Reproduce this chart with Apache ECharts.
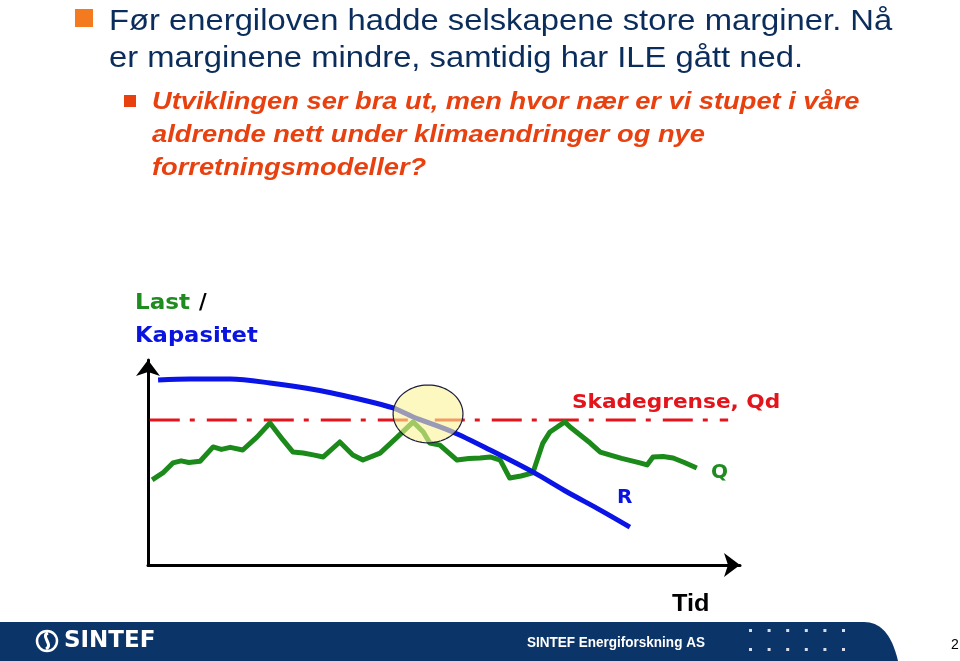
<!DOCTYPE html>
<html>
<head>
<meta charset="utf-8">
<script src="https://cdn.jsdelivr.net/npm/echarts@6/dist/echarts.min.js"></script>
<style>
html,body{margin:0;padding:0;background:#fff;}
#c{width:960px;height:661px;}
</style>
</head>
<body>
<div id="c"></div>
<script>
// ---- data (time 0..100, load/capacity 0..100) ----
var capacityR = [[1.7,90.2],[7.1,90.7],[13.9,90.7],[20.6,88.8],[28.5,85.4],[36.3,80.5],[41.4,76.6],[44.8,72.2],[51.5,64.9],[57.8,56.1],[65.0,45.4],[70.8,35.6],[76.4,26.8],[81.4,18.5]];
var loadQ = [[0.7,41.5],[2.5,44.9],[4.2,49.8],[5.6,50.8],[6.9,50.0],[8.8,50.6],[11.0,57.6],[12.4,56.4],[13.9,57.4],[16.0,56.1],[18.4,62.4],[20.6,69.3],[22.8,61.0],[24.5,55.1],[26.2,54.6],[27.9,53.7],[29.6,52.7],[32.4,60.0],[34.6,53.7],[36.3,51.2],[39.2,54.6],[42.1,62.4],[44.8,69.8],[46.5,64.9],[47.6,59.5],[49.3,58.5],[52.2,51.2],[54.2,51.9],[56.1,52.2],[57.8,52.7],[59.5,51.2],[61.1,42.4],[63.0,43.4],[65.0,44.9],[66.7,59.5],[67.9,64.9],[70.4,69.8],[71.3,67.3],[74.7,59.5],[76.4,55.1],[78.4,53.4],[80.0,52.0],[83.1,49.8],[84.3,48.8],[85.3,52.7],[87.0,52.9],[88.7,52.2],[90.6,50.0],[92.7,47.3]];
var damageLimitQd = 70.7;
var damageLimitRange = [0.3, 98];
var highlight = [[47.3, 73.7, 5.9, 14.1]]; // centre x, centre y, radius x, radius y
var title1 = ['Før energiloven hadde selskapene store marginer. Nå', 'er marginene mindre, samtidig har ILE gått ned.'];
var title2 = ['Utviklingen ser bra ut, men hvor nær er vi stupet i våre', 'aldrende nett under klimaendringer og nye', 'forretningsmodeller?'];

var chart = echarts.init(document.getElementById('c'), null, {renderer:'canvas'});

function txt(t, x, y, font, fill, sx, va){
  return {type:'text', x:x, y:y, scaleX:sx||1, style:{text:t, x:0, y:0, fill:fill, font:font, verticalAlign:va||'top'}};
}
var graphics = [];
// main bullet
graphics.push({type:'rect', shape:{x:75,y:9,width:18,height:18}, style:{fill:'#f47a20'}});
title1.forEach(function(t,i){
  graphics.push(txt(t, 109, 7+i*37, '29px "Liberation Sans", Arial, sans-serif', '#0b2d5b', 1.13));
});
graphics.push({type:'rect', shape:{x:124,y:95,width:12,height:12}, style:{fill:'#e8400f'}});
title2.forEach(function(t,i){
  graphics.push(txt(t, 152, 91+i*33, 'italic bold 23.5px "Liberation Sans", Arial, sans-serif', '#e8400f', 1.16));
});
// axis captions
var dj = '"DejaVu Sans", sans-serif';
graphics.push(txt('Last', 135, 293, 'bold 21px '+dj, '#1e8c1e', 1.1));
graphics.push(txt('/', 199, 293, 'bold 21px '+dj, '#000', 1));
graphics.push(txt('Kapasitet', 135, 326, 'bold 21px '+dj, '#0a14e0', 1.08));
graphics.push(txt('Skadegrense, Qd', 572, 393, 'bold 19.5px '+dj, '#e4141c', 1.11));
graphics.push(txt('Q', 711, 463, 'bold 20px '+dj, '#1e8c1e', 1));
graphics.push(txt('R', 617, 488, 'bold 20px '+dj, '#0a14e0', 1));
graphics.push(txt('Tid', 672, 593, 'bold 23px "Liberation Sans", Arial, sans-serif', '#000', 1.1));
// footer band with rounded right end
var band = [[0,622]];
var p0=[864,622], c1=[884,622], c2=[893,640], p3=[898,661];
for (var i=0;i<=20;i++){ var t=i/20, u=1-t;
  band.push([u*u*u*p0[0]+3*u*u*t*c1[0]+3*u*t*t*c2[0]+t*t*t*p3[0], u*u*u*p0[1]+3*u*u*t*c1[1]+3*u*t*t*c2[1]+t*t*t*p3[1]]);
}
band.push([0,661]);
graphics.push({type:'polygon', shape:{points:band}, style:{fill:'#0b3468'}});
// logo
graphics.push({type:'circle', shape:{cx:47,cy:641,r:10}, style:{fill:'none', stroke:'#fff', lineWidth:2.5}});
graphics.push({type:'bezierCurve', shape:{x1:48,y1:633,cpx1:40,cpy1:636,cpx2:54,cpy2:645,x2:46,y2:649}, style:{fill:'none', stroke:'#fff', lineWidth:3}});
graphics.push(txt('SINTEF', 64, 641, 'bold 23px '+dj, '#fff', 1, 'middle'));
graphics.push(txt('SINTEF Energiforskning AS', 527, 643, 'bold 14px "Liberation Sans", Arial, sans-serif', '#fff', 0.965, 'middle'));
for (var r=0;r<2;r++){ for (var k=0;k<6;k++){
  graphics.push({type:'rect', shape:{x:749+k*18.6, y:629+r*19, width:3, height:3}, style:{fill:'#d8dde8'}});
}}
graphics.push(txt('2', 951, 645, '14px "Liberation Sans", Arial, sans-serif', '#000', 1, 'middle'));

var axisCommon = {
  type:'value', min:0, max:100,
  axisLine:{show:true, symbol:['none','arrow'], symbolSize:[18,16], lineStyle:{color:'#000', width:3}},
  axisTick:{show:false}, axisLabel:{show:false}, splitLine:{show:false}
};

chart.setOption({
  animation:false,
  backgroundColor:'#fff',
  grid:{left:148, right:220, top:360, bottom:96},
  xAxis: axisCommon,
  yAxis: axisCommon,
  graphic: graphics,
  series:[
    {type:'line', name:'Qd', data:[[damageLimitRange[0],damageLimitQd],[damageLimitRange[1],damageLimitQd]], symbol:'none', z:2,
     lineStyle:{color:'#e4141c', width:3, type:[30,10,5,12]}},
    {type:'line', name:'Q', data:loadQ, symbol:'none', z:3,
     lineStyle:{color:'#1b8a1b', width:5, join:'round'}},
    {type:'line', name:'R', data:capacityR, symbol:'none', smooth:0.3, z:4,
     lineStyle:{color:'#0a14e6', width:5}},
    {type:'custom', name:'highlight', data:highlight, z:5,
     encode:{x:0,y:1},
     renderItem:function(params, api){
       var c = api.coord([api.value(0), api.value(1)]);
       var s = api.size([api.value(2), api.value(3)]);
       var pts = [];
       for (var i=0;i<90;i++){ var a=i/90*Math.PI*2; pts.push([c[0]+s[0]*Math.cos(a), c[1]+s[1]*Math.sin(a)]); }
       return {type:'polygon', shape:{points:pts}, style:{fill:'rgba(250,244,150,0.6)', stroke:'#1c1c3c', lineWidth:1.2}};
     }}
  ]
});
</script>
</body>
</html>
